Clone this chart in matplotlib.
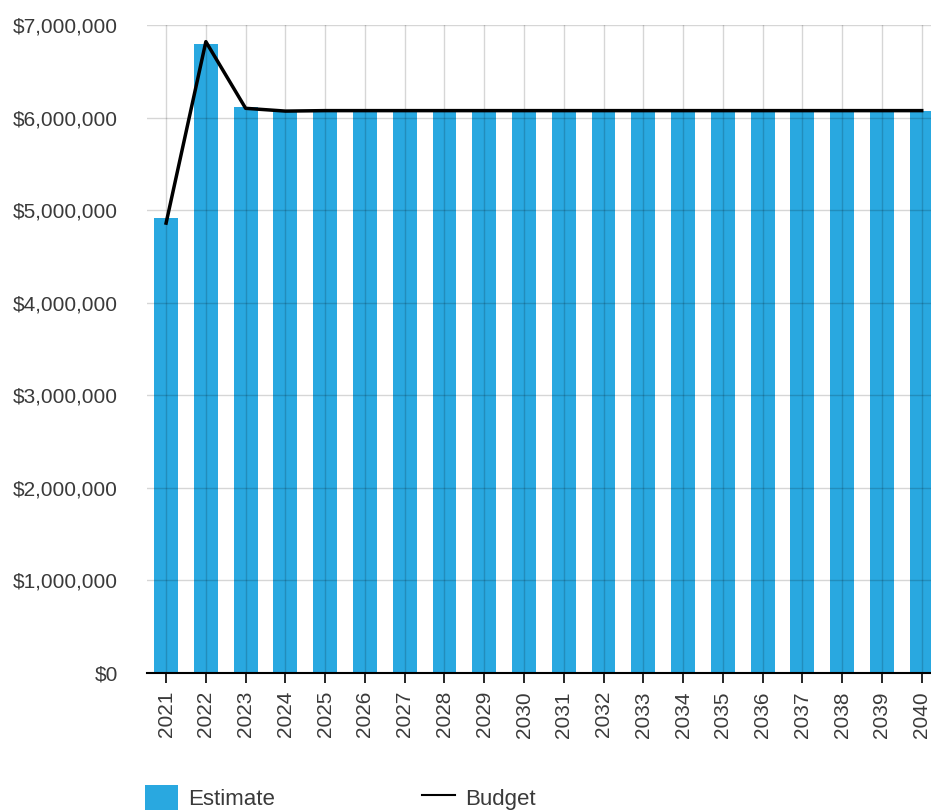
import matplotlib
matplotlib.use("Agg")
import matplotlib.pyplot as plt
from matplotlib.patches import Patch
from matplotlib.lines import Line2D
from matplotlib.ticker import FuncFormatter

# data
years = [str(y) for y in range(2021, 2041)]
estimate = [4920000, 6800000, 6110000, 6060000] + [6070000] * 16
budget = [4860000, 6820000, 6100000, 6070000] + [6075000] * 16

bar_color = "#29A8E0"
text_color = "#3a3a3a"

plt.rcParams['font.family'] = ['Liberation Sans', 'DejaVu Sans']

fig = plt.figure(figsize=(9.31, 8.1), dpi=100)
# axes runs a little past the right edge, like the original
ax = fig.add_axes([147 / 931, 137 / 810, 795.4 / 931, 648 / 810])

x = list(range(len(years)))
ax.bar(x, estimate, width=0.6, color=bar_color, zorder=1)
ax.plot(x, budget, color="black", linewidth=2.5, zorder=3)

# grid sits on top of the bars
ax.set_axisbelow(False)
ax.grid(True, axis='both', color="black", alpha=0.16, linewidth=1, zorder=2)

ax.set_xlim(-0.48, 19.52)
ax.set_ylim(0, 7000000)
ax.set_yticks(range(0, 7000001, 1000000))
ax.yaxis.set_major_formatter(FuncFormatter(lambda v, p: "${:,.0f}".format(v)))
ax.set_xticks(x)
ax.set_xticklabels(years, rotation=90)

for side in ['top', 'right', 'left']:
    ax.spines[side].set_visible(False)
ax.spines['bottom'].set_color("black")
ax.spines['bottom'].set_linewidth(1.5)

ax.tick_params(axis='y', length=0, pad=21, labelsize=15, labelcolor=text_color)
ax.tick_params(axis='x', length=7, width=1.2, color="black", pad=6, labelsize=15, labelcolor=text_color)

handles = [Patch(facecolor=bar_color, edgecolor='none'),
           Line2D([0], [0], color="black", linewidth=1.5)]
fig.legend(handles, ["Estimate", "Budget"], ncol=2, loc='center left',
           bbox_to_anchor=(145 / 931, 12 / 810), frameon=False, borderpad=0,
           borderaxespad=0, handlelength=1.49, handleheight=1.45, handletextpad=0.45,
           columnspacing=6.6, fontsize=16, labelcolor=text_color)

plt.savefig("out.png", dpi=100)
